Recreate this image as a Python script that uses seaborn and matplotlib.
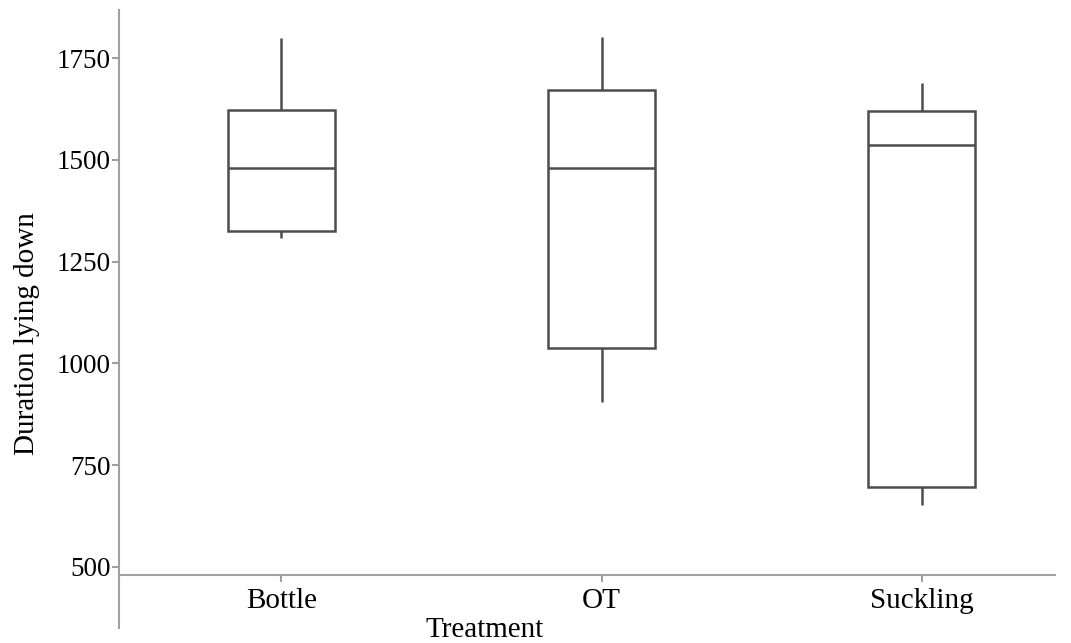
import matplotlib
matplotlib.use("Agg")
import matplotlib.pyplot as plt
import seaborn as sns
import pandas as pd

# Lying-down duration per feeding treatment
treatments = ["Bottle", "OT", "Suckling"]
bottle = [1309, 1326, 1480, 1622, 1800]
ot = [904, 1037, 1480, 1672, 1801]
suckling = [652, 696, 1537, 1620, 1689]
y_ticks = [500, 750, 1000, 1250, 1500, 1750]

df = pd.DataFrame({
    "Treatment": ["Bottle"] * len(bottle) + ["OT"] * len(ot) + ["Suckling"] * len(suckling),
    "Duration lying down": bottle + ot + suckling,
})

sns.set_theme(style="white")
plt.rcParams["font.family"] = ["Liberation Serif", "DejaVu Serif"]

W, H = 1071, 643
fig = plt.figure(figsize=(W / 100, H / 100), dpi=100)
ax = fig.add_axes([119 / W, 15 / H, (1055 - 119) / W, 618 / H])

sns.boxplot(
    data=df, x="Treatment", y="Duration lying down", order=treatments,
    width=0.335, color="white", linecolor="#4d4d4d", linewidth=1.8,
    showcaps=False, fliersize=0, ax=ax,
)

ax.set_xlim(-0.507, 2.416)
ax.set_ylim(350, 1868)
ax.set_yticks(y_ticks)

spine_col = "#a0a0a0"
ax.spines["top"].set_visible(False)
ax.spines["right"].set_visible(False)
for s in ("left", "bottom"):
    ax.spines[s].set_color(spine_col)
    ax.spines[s].set_linewidth(1.5)
ax.spines["bottom"].set_position(("data", 480))

ax.tick_params(axis="y", left=True, length=5, width=1.5, color=spine_col,
               labelcolor="black", labelsize=19.5, pad=1)
ax.tick_params(axis="x", bottom=True, length=5, width=1.5, color=spine_col,
               labelcolor="black", labelsize=21, pad=4)

ax.set_ylabel("Duration lying down", fontsize=21, color="black")
ax.set_xlabel("Treatment", fontsize=21, color="black")
ax.yaxis.set_label_coords(-0.0844, 0.476)
ax.xaxis.set_label_coords(0.391, 0.018)

fig.savefig("out.png", dpi=100)
